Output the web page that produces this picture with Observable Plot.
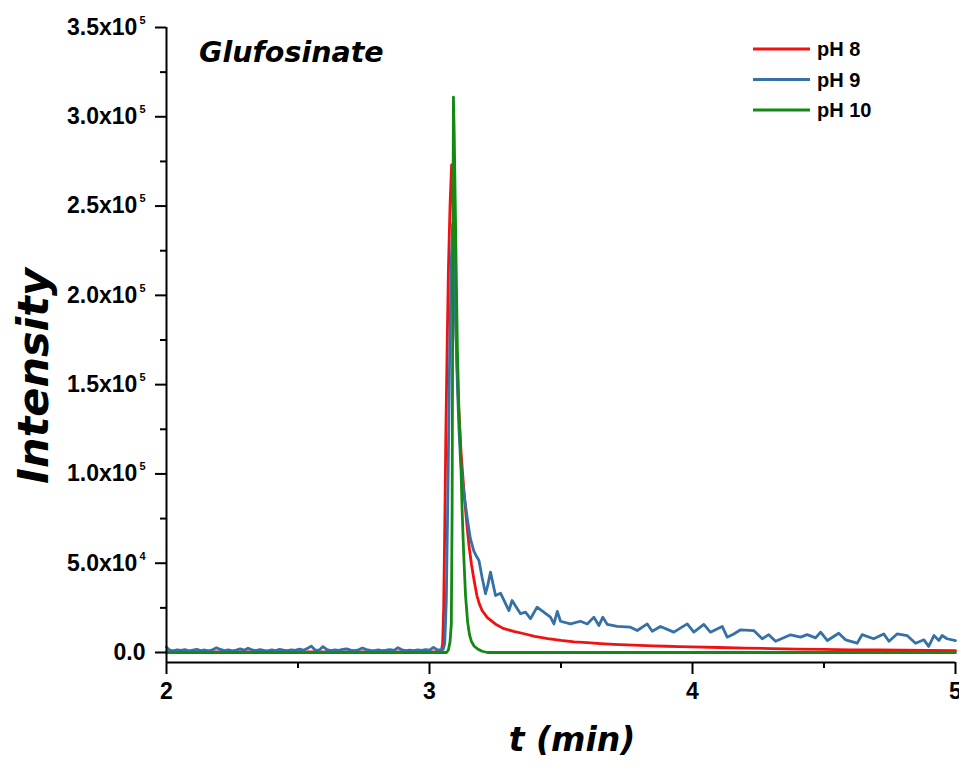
<!DOCTYPE html>
<html><head><meta charset="utf-8">
<script src="https://cdn.jsdelivr.net/npm/d3@7"></script>
<script src="https://cdn.jsdelivr.net/npm/@observablehq/plot@0.6"></script>
<style>
body{margin:0;background:#fff}
#chart{position:relative;width:959px;height:764px}
</style>
</head><body><div id="chart"></div>
<script>
const seriesNames = ["pH 8", "pH 9", "pH 10"];
const seriesColors = ["#f01212", "#3571a6", "#148a14"];

// [time (min), intensity]
const pH8 = [
[2.00,300],[2.50,300],[3.00,300],[3.040,400],[3.045,600],[3.050,5000],[3.054,25000],[3.058,70000],[3.062,120000],
[3.067,170000],[3.072,215000],[3.078,250000],[3.084,273000],[3.089,255000],[3.094,220000],[3.099,190000],
[3.105,160000],[3.110,140000],[3.120,112000],[3.130,92000],[3.140,75000],[3.150,60000],[3.160,49000],
[3.170,40000],[3.180,32000],[3.190,27000],[3.200,23500],[3.220,19500],[3.250,16000],[3.280,13500],
[3.320,11800],[3.360,10500],[3.400,9000],[3.450,7800],[3.500,6800],[3.550,6000],[3.600,5500],[3.650,5000],
[3.700,4600],[3.750,4300],[3.800,4000],[3.850,3700],[3.900,3500],[3.950,3300],[4.000,3100],[4.100,2800],
[4.200,2500],[4.300,2200],[4.400,1900],[4.500,1700],[4.600,1500],[4.700,1400],[4.800,1300],[4.900,1200],[5.000,1100]
];

const pH9 = [
[2.000,3000],[2.010,1500],[2.025,900],[2.040,1500],[2.055,1200],[2.070,1600],[2.085,900],[2.100,1300],[2.115,1800],
[2.130,1100],[2.145,1400],[2.160,900],[2.175,1500],[2.190,2600],[2.205,1700],[2.220,1100],[2.235,1500],[2.250,900],
[2.265,1400],[2.280,2000],[2.295,1300],[2.310,2400],[2.325,1500],[2.340,1000],[2.355,1600],[2.370,1200],[2.385,900],
[2.400,1500],[2.415,1100],[2.430,1700],[2.445,1300],[2.460,1000],[2.475,1500],[2.490,1200],[2.505,1900],[2.520,1300],
[2.535,2200],[2.550,3600],[2.565,1400],[2.580,1200],[2.595,3300],[2.610,1600],[2.625,1000],[2.640,1400],[2.655,1200],
[2.670,1700],[2.685,2000],[2.700,1300],[2.715,1100],[2.730,1500],[2.745,2500],[2.760,1600],[2.775,1200],[2.790,1000],
[2.805,1400],[2.820,1100],[2.835,1300],[2.850,1600],[2.865,1200],[2.880,2700],[2.895,1500],[2.910,1100],[2.925,1300],
[2.940,1000],[2.955,1500],[2.970,1200],[2.985,1600],[3.000,1300],[3.015,2900],[3.030,1400],[3.045,1500],
[3.052,1800],[3.058,5000],[3.064,30000],[3.070,90000],[3.076,160000],[3.082,215000],[3.088,240000],[3.094,215000],
[3.100,180000],[3.106,150000],[3.112,125000],[3.118,107500],[3.130,90000],[3.143,75800],[3.155,64000],[3.168,57100],
[3.178,54000],[3.188,51500],[3.200,42000],[3.213,32900],[3.222,38000],[3.232,45000],[3.251,31900],[3.270,33200],
[3.302,23500],[3.314,29100],[3.346,21700],[3.365,22600],[3.384,18900],[3.409,25400],[3.460,19800],[3.473,16000],
[3.486,23000],[3.498,17500],[3.536,16000],[3.574,17500],[3.600,16000],[3.625,19800],[3.644,15100],[3.659,19800],
[3.676,15700],[3.714,14600],[3.764,14200],[3.790,12300],[3.828,16000],[3.847,11900],[3.878,14600],[3.929,11400],
[3.980,16000],[4.005,11400],[4.043,15700],[4.068,11400],[4.113,14600],[4.132,8600],[4.157,10400],[4.183,12700],
[4.233,12300],[4.265,7700],[4.290,10000],[4.316,6300],[4.373,9900],[4.411,8600],[4.436,10000],[4.468,8200],
[4.487,11400],[4.513,6700],[4.556,10800],[4.582,7100],[4.626,5200],[4.645,10000],[4.689,7700],[4.727,10400],
[4.747,6300],[4.778,10400],[4.816,9500],[4.848,5200],[4.880,7100],[4.898,3400],[4.918,9500],[4.937,6700],
[4.949,9500],[4.968,7700],[5.000,6700]
];

const pH10 = [
[2.000,0],[2.500,0],[3.000,0],[3.065,0],[3.072,1500],[3.078,6000],[3.083,16000],[3.086,80000],[3.088,180000],
[3.091,311000],[3.094,290000],[3.098,250000],[3.102,210000],[3.106,170000],[3.112,135000],[3.118,113000],
[3.124,80000],[3.130,55000],[3.137,32000],[3.145,17000],[3.152,10000],[3.160,6000],[3.170,3500],[3.183,2000],
[3.200,700],[3.220,0],[3.500,0],[4.000,0],[4.500,0],[5.000,0]
];

const xTicks = [2, 3, 4, 5];
const xMinorTicks = [2.5, 3.5, 4.5];
const yTicks = [0, 50000, 100000, 150000, 200000, 250000, 300000, 350000];
const yTickLabels = ["0.0", "5.0x10^4", "1.0x10^5", "1.5x10^5", "2.0x10^5", "2.5x10^5", "3.0x10^5", "3.5x10^5"];
const yMinorTicks = [25000, 75000, 125000, 175000, 225000, 275000, 325000];

const titleText = "Glufosinate";
const xLabel = "t (min)";
const yLabel = "Intensity";

const toRows = s => s.map(([t, v]) => ({t, v}));
const yMin = -5600;

const plot = Plot.plot({
  width: 959, height: 764,
  marginLeft: 166, marginRight: 4, marginTop: 27, marginBottom: 102,
  x: {domain: [2, 5]},
  y: {domain: [yMin, 350000]},
  style: {fontFamily: "'Liberation Sans', Arial, sans-serif", fontWeight: "bold", color: "#000", background: "#fff"},
  marks: [
    Plot.line(toRows(pH8), {x: "t", y: "v", stroke: seriesColors[0], strokeWidth: 2.8}),
    Plot.line(toRows(pH9), {x: "t", y: "v", stroke: seriesColors[1], strokeWidth: 2.8}),
    Plot.line(toRows(pH10), {x: "t", y: "v", stroke: seriesColors[2], strokeWidth: 2.8}),
    Plot.ruleX([2], {stroke: "#000", strokeWidth: 2}),
    Plot.ruleY([yMin], {stroke: "#000", strokeWidth: 2}),
    Plot.axisY(yTicks, {tickSize: 11, tickPadding: 10, strokeWidth: 2, fontSize: 23, label: null,
      tickFormat: d => yTickLabels[yTicks.indexOf(d)]}),
    Plot.axisY(yMinorTicks, {tickSize: 6, strokeWidth: 2, tickFormat: () => "", label: null}),
    Plot.axisX(xTicks, {tickSize: 12, tickPadding: 8, strokeWidth: 2, fontSize: 23, label: null,
      tickFormat: d => String(d)}),
    Plot.axisX(xMinorTicks, {tickSize: 6, strokeWidth: 2, tickFormat: () => "", label: null})
  ]
});
document.getElementById("chart").appendChild(plot);

const svg = d3.select(plot);
// superscript exponents on y tick labels
svg.selectAll('g[aria-label="y-axis tick label"] text').each(function() {
  const s = this.textContent;
  if (s.includes("^")) {
    const [m, e] = s.split("^");
    const t = d3.select(this);
    t.text(m);
    t.append("tspan").attr("dx", 2).attr("dy", -11).attr("font-size", 11).text(e);
  }
});

const italic = "'DejaVu Sans', sans-serif";
svg.append("text").attr("x", 199).attr("y", 62).attr("text-anchor", "start")
  .attr("font-family", italic).attr("font-weight", "bold").attr("font-style", "italic")
  .attr("font-size", 28.5).attr("fill", "#000").text(titleText);

svg.append("text").attr("transform", "translate(48,376) rotate(-90)")
  .attr("text-anchor", "middle")
  .attr("font-family", italic).attr("font-weight", "bold").attr("font-style", "italic")
  .attr("font-size", 43).attr("fill", "#000").text(yLabel);

svg.append("text").attr("x", 572).attr("y", 751).attr("text-anchor", "middle")
  .attr("font-family", italic).attr("font-weight", "bold").attr("font-style", "italic")
  .attr("font-size", 33).attr("fill", "#000").text(xLabel);

// legend
const leg = svg.append("g");
seriesNames.forEach((name, i) => {
  const y = 49 + i * 30.5;
  leg.append("line").attr("x1", 753).attr("x2", 810).attr("y1", y).attr("y2", y)
    .attr("stroke", seriesColors[i]).attr("stroke-width", 3);
  leg.append("text").attr("x", 817).attr("y", y + 7).attr("text-anchor", "start")
    .attr("font-family", "'Liberation Sans', Arial, sans-serif").attr("font-weight", "bold")
    .attr("font-size", 20).attr("fill", "#000").text(name);
});
</script>
</body></html>
